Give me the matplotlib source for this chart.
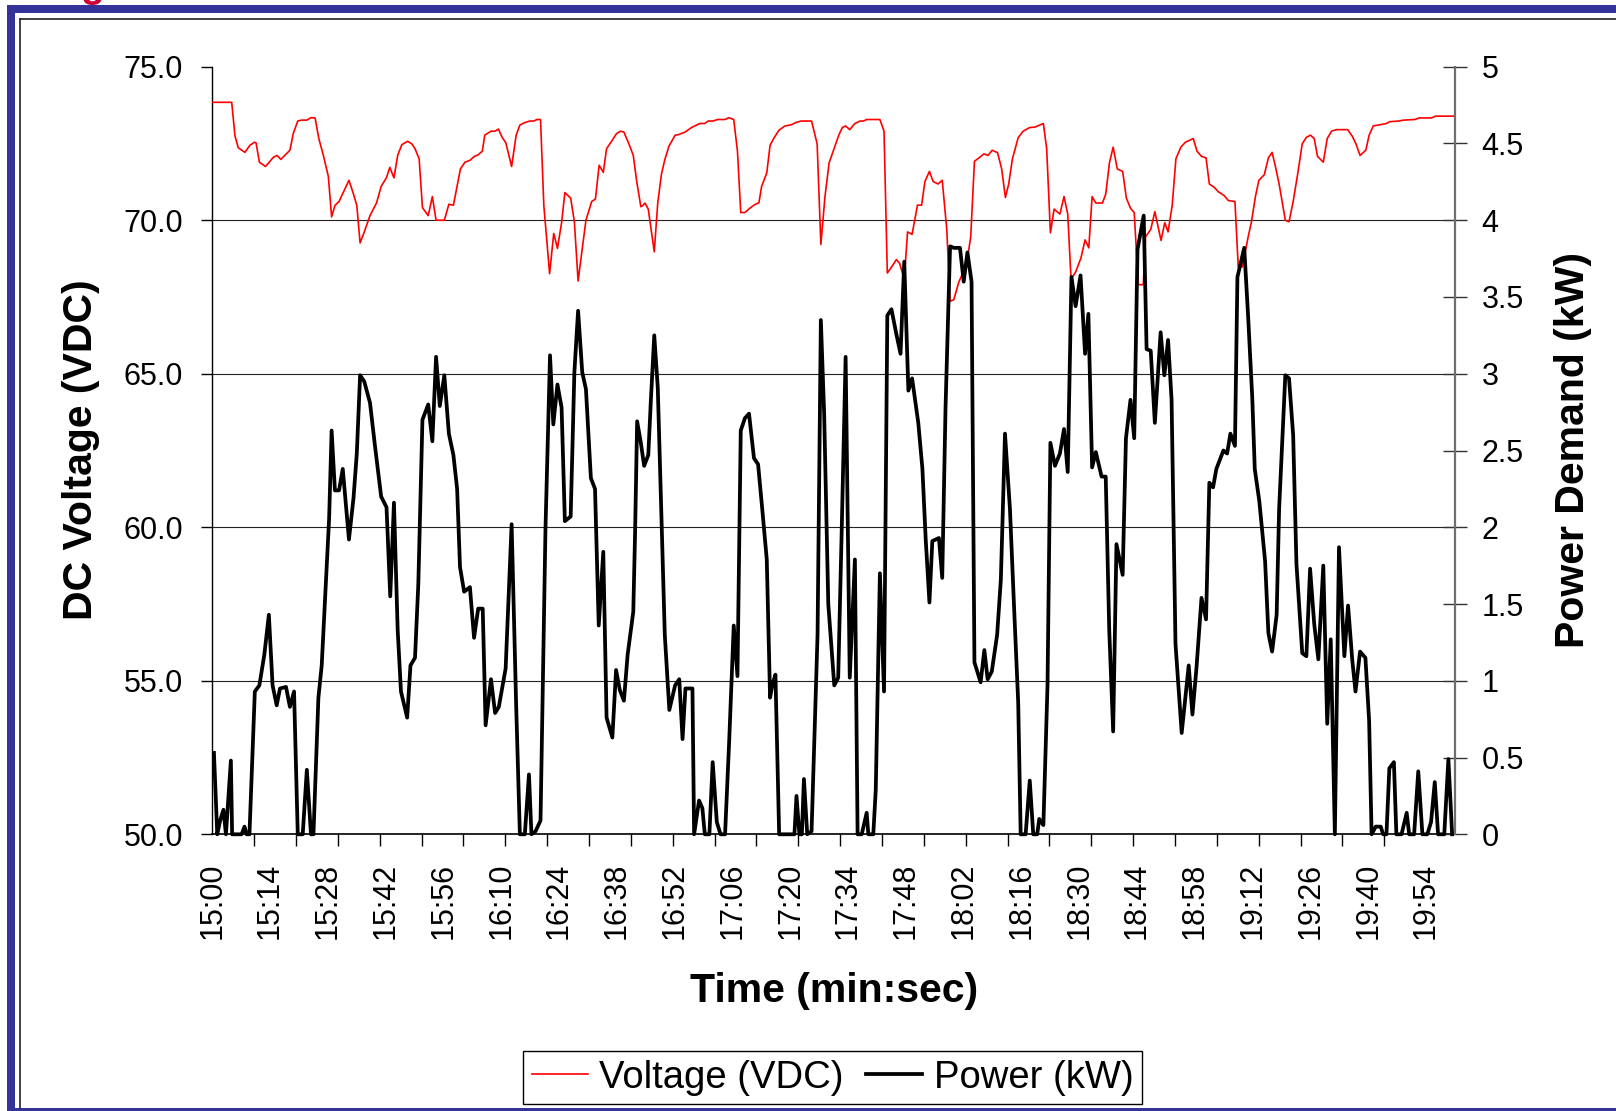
import matplotlib
matplotlib.use("Agg")
import matplotlib.pyplot as plt
import numpy as np
from matplotlib.patches import Rectangle
from matplotlib.lines import Line2D
from matplotlib import font_manager

plt.rcParams['font.family'] = ['Liberation Sans', 'DejaVu Sans']

# ---------------- data (seconds after 15:00) ----------------
volt_t = [0.0, 4.7, 5.5, 6.3, 7.9, 9.1, 10.2, 10.6, 11.4, 12.9, 14.8, 15.7, 16.6, 18.8, 19.6, 20.7, 21.6, 22.9,
          23.9, 24.9, 25.8, 26.9, 28.1, 28.9, 29.7, 30.7, 31.7, 33.1, 34.2, 35.0, 35.8, 36.6, 38.2, 39.8, 40.9,
          42.2, 43.0, 44.0, 44.9, 45.9, 47.3, 48.3, 49.1, 50.1, 50.9, 52.3, 53.3, 54.2, 56.2, 57.3, 58.4, 60.1,
          61.2, 62.4, 63.5, 64.4, 65.4, 66.0, 67.5, 68.5, 69.3, 70.2, 71.1, 72.5, 73.6, 74.5, 75.7, 76.9, 77.9,
          78.6, 79.5, 80.3, 81.7, 82.7, 83.6, 84.6, 85.4, 86.8, 87.7, 88.6, 89.5, 90.5, 91.9, 92.8, 93.7, 94.7,
          95.5, 96.9, 97.9, 98.9, 99.7, 100.9, 101.97, 102.8, 103.8, 104.2, 104.8, 105.6, 106.3, 107.05, 107.9,
          108.8, 109.6, 110.6, 112.1, 113.0, 114.5, 116.1, 118.1, 119.3, 120.1, 121.3, 122.4, 124.2, 125.1, 126.3,
          127.2, 128.0, 129.0, 130.2, 131.4, 132.4, 133.05, 134.3, 135.1, 136.1, 137.25, 138.7, 140.3, 141.3,
          142.6, 145.15, 146.5, 147.4, 148.4, 149.4, 150.4, 151.8, 152.6, 153.4, 154.4, 155.65, 156.9, 157.7,
          158.5, 161.7, 162.7, 163.5, 164.7, 165.7, 166.5, 167.6, 168.4, 169.5, 170.8, 171.8, 172.6, 173.7,
          174.6, 175.8, 176.8, 177.9, 178.7, 179.6, 180.8, 182.7, 183.7, 184.6, 185.7, 186.9, 187.9, 188.9,
          190.2, 191.2, 192.1, 192.9, 193.8, 195.2, 196.4, 198.0, 199.2, 201.3, 202.1, 203.0, 203.9, 205.3,
          206.3, 207.2, 208.0, 209.1, 210.4, 211.4, 212.3, 213.1, 214.0, 215.6, 216.4, 217.3, 218.2, 219.2,
          220.5, 221.4, 222.4, 223.3, 224.3, 225.5, 226.05, 227.3, 228.3, 229.8, 230.7, 231.5, 232.5, 233.4,
          234.6, 235.7, 237.6, 238.5, 239.6, 240.7, 241.5, 242.7, 243.65, 245.1, 246.1, 247.7, 248.5, 249.5,
          250.9, 251.7, 252.7, 253.5, 254.8, 255.8, 256.7, 257.5, 258.4, 259.9, 260.8, 261.8, 262.9, 264.0,
          265.0, 266.0, 266.9, 267.7, 269.1, 270.05, 271.1, 272.3, 275.0, 276.1, 277.0, 278.0, 279.4, 280.2,
          281.2, 282.8, 284.4, 285.2, 287.4, 288.5, 291.3, 292.3, 295.3, 296.3, 300.7]
volt_vdc = [73.84, 73.84, 72.74, 72.36, 72.21, 72.44, 72.54, 72.52, 71.89, 71.75, 72.05, 72.11, 71.98, 72.28, 72.82,
            73.23, 73.26, 73.26, 73.34, 73.33, 72.66, 72.11, 71.43, 70.11, 70.48, 70.61, 70.90, 71.30, 70.85, 70.48,
            69.26, 69.54, 70.15, 70.57, 71.10, 71.39, 71.72, 71.38, 72.11, 72.46, 72.57, 72.49, 72.33, 72.0, 70.41,
            70.15, 70.77, 70.0, 70.0, 70.52, 70.49, 71.67, 71.89, 71.95, 72.08, 72.13, 72.25, 72.77, 72.90, 72.90,
            72.97, 72.70, 72.52, 71.75, 72.77, 73.10, 73.18, 73.23, 73.23, 73.28, 73.28, 70.48, 68.26, 69.57, 69.08,
            69.92, 70.90, 70.72, 69.95, 68.02, 68.97, 70.0, 70.61, 70.69, 71.79, 71.56, 72.33, 72.61, 72.82, 72.90,
            72.87, 72.49, 72.11, 71.26, 70.44, 70.47, 70.56, 70.36, 69.70, 68.97, 70.57, 71.51, 71.97, 72.41, 72.77,
            72.79, 72.87, 73.02, 73.15, 73.15, 73.23, 73.23, 73.28, 73.28, 73.34, 73.28, 72.25, 70.25, 70.25, 70.39,
            70.51, 70.57, 71.10, 71.54, 72.44, 72.69, 72.93, 73.07, 73.11, 73.18, 73.23, 73.23, 72.49, 69.21, 70.77,
            71.87, 72.25, 72.79, 73.02, 73.07, 72.95, 73.15, 73.23, 73.23, 73.28, 73.28, 72.90, 68.28, 68.51, 68.72,
            68.59, 68.07, 69.62, 69.54, 70.49, 70.49, 71.26, 71.59, 71.26, 71.18, 71.30, 69.70, 67.36, 67.41, 67.98,
            68.56, 69.46, 71.92, 72.03, 72.16, 72.11, 72.28, 72.20, 71.67, 70.74, 71.18, 72.0, 72.69, 72.90, 73.02,
            73.03, 73.15, 72.33, 69.59, 70.36, 70.20, 70.77, 70.20, 68.07, 68.31, 68.77, 69.36, 69.10, 70.77, 70.56,
            70.56, 70.85, 71.87, 72.38, 71.67, 71.59, 70.72, 70.39, 70.25, 67.90, 67.90, 69.46, 69.70, 70.28, 69.34,
            69.92, 69.62, 70.48, 72.0, 72.38, 72.54, 72.66, 72.25, 72.08, 72.03, 71.18, 71.07, 70.93, 70.80, 70.64,
            70.61, 68.48, 68.48, 69.46, 69.95, 70.80, 71.30, 71.48, 72.03, 72.21, 71.75, 71.18, 70.0, 69.95, 70.61,
            71.51, 72.49, 72.70, 72.77, 72.66, 72.08, 71.89, 72.66, 72.90, 72.95, 72.95, 72.74, 72.49, 72.11, 72.28,
            72.77, 73.07, 73.11, 73.15, 73.21, 73.23, 73.26, 73.28, 73.33, 73.33, 73.39, 73.39]

power_t = [0.4, 1.2, 1.9, 2.7, 3.3, 4.5, 4.8, 7.1, 7.8, 8.3, 9.0, 10.3, 11.4, 12.6, 13.7, 14.6, 15.6, 16.4, 17.85,
           18.8, 19.8, 20.7, 21.9, 22.9, 23.9, 24.5, 25.7, 26.5, 27.5, 28.3, 28.9, 29.7, 30.7, 31.6, 33.1, 34.2,
           35.0, 35.8, 36.8, 38.2, 39.4, 40.9, 42.2, 43.1, 44.0, 44.9, 45.7, 47.2, 48.0, 49.1, 49.9, 50.9, 52.3,
           53.3, 54.2, 55.1, 56.2, 57.3, 58.4, 59.3, 60.0, 61.0, 62.4, 63.4, 64.4, 65.5, 66.2, 67.5, 68.5, 69.4,
           71.05, 72.5, 73.6, 74.5, 75.7, 76.7, 77.3, 78.3, 79.5, 80.7, 81.8, 82.6, 83.6, 84.6, 85.4, 86.8, 87.7,
           88.6, 89.6, 90.5, 91.7, 92.7, 93.6, 94.7, 95.5, 96.9, 97.8, 98.7, 99.7, 100.6, 101.97, 102.4, 102.9,
           103.8, 104.6, 105.6, 106.25, 107.05, 107.9, 108.8, 109.6, 110.7, 112.1, 113.1, 113.9, 114.6, 116.3,
           116.7, 117.9, 118.7, 119.3, 120.4, 121.2, 122.2, 123.1, 124.2, 125.2, 126.3, 127.2, 128.0, 129.0,
           130.0, 131.2, 132.2, 133.2, 134.3, 135.1, 135.7, 136.4, 137.3, 141.0, 141.5, 142.2, 142.8, 143.3,
           144.1, 145.15, 146.6, 147.4, 148.2, 149.2, 150.65, 151.6, 152.4, 153.4, 154.4, 155.65, 156.3, 157.3,
           158.5, 158.9, 160.1, 160.7, 161.7, 162.7, 163.5, 164.5, 165.75, 166.7, 167.6, 168.6, 169.5, 171.0,
           172.0, 172.8, 173.7, 174.4, 176.0, 176.8, 177.6, 178.7, 179.6, 181.1, 182.0, 182.9, 183.9, 184.6,
           186.1, 187.0, 187.8, 188.8, 190.1, 191.0, 192.0, 193.2, 194.2, 195.2, 195.8, 197.0, 198.0, 198.85,
           199.8, 200.3, 201.3, 202.3, 203.0, 204.1, 205.3, 206.3, 207.2, 208.1, 209.1, 210.3, 211.4, 212.2,
           213.1, 214.0, 215.4, 216.4, 217.25, 218.2, 219.0, 220.5, 221.3, 222.4, 223.3, 224.1, 225.6, 226.3,
           227.3, 228.3, 229.7, 230.6, 231.5, 232.35, 233.3, 234.8, 236.5, 237.4, 238.4, 239.6, 240.7, 241.5,
           242.4, 243.2, 244.9, 245.8, 246.6, 247.7, 248.3, 249.95, 250.9, 251.9, 252.5, 253.6, 255.0, 255.8,
           256.7, 257.8, 258.4, 259.9, 260.8, 261.8, 262.6, 264.0, 265.0, 265.9, 266.9, 267.9, 269.1, 270.05,
           270.9, 271.9, 272.9, 274.2, 275.1, 276.1, 276.9, 278.0, 279.3, 280.2, 280.8, 281.8, 283.0, 283.6,
           284.4, 285.1, 286.2, 286.8, 288.05, 289.3, 289.9, 291.1, 292.1, 293.1, 294.3, 295.2, 296.1, 296.9,
           298.4, 299.4, 300.3]
power_kw = [0.53, 0, 0.09, 0.16, 0, 0.48, 0, 0, 0.05, 0, 0, 0.93, 0.97, 1.17, 1.43, 0.97, 0.84, 0.95, 0.96,
            0.83, 0.93, 0, 0, 0.42, 0, 0, 0.89, 1.10, 1.63, 2.06, 2.63, 2.24, 2.24, 2.38, 1.92, 2.19,
            2.48, 2.99, 2.95, 2.81, 2.53, 2.20, 2.13, 1.55, 2.16, 1.33, 0.93, 0.76, 1.10, 1.15, 1.63, 2.70, 2.80,
            2.56, 3.11, 2.79, 2.99, 2.61, 2.47, 2.25, 1.74, 1.58, 1.61, 1.28, 1.47, 1.47, 0.71, 1.01, 0.79, 0.83,
            1.08, 2.02, 0.84, 0, 0, 0.39, 0, 0.02, 0.09, 1.99, 3.12, 2.67, 2.93, 2.78, 2.04, 2.07, 3.01,
            3.41, 3.01, 2.90, 2.32, 2.25, 1.36, 1.84, 0.76, 0.63, 1.07, 0.94, 0.87, 1.17, 1.45, 1.96, 2.69,
            2.55, 2.40, 2.47, 2.84, 3.25, 2.91, 2.06, 1.30, 0.81, 0.97, 1.01, 0.62, 0.95, 0.95,
            0, 0.22, 0.17, 0, 0, 0.47, 0.08, 0, 0, 0.61, 1.36, 1.03, 2.63, 2.71,
            2.74, 2.45, 2.41, 2.12, 1.79, 0.89, 0.98, 1.04, 0, 0, 0.25, 0, 0, 0.36,
            0, 0.02, 1.30, 3.35, 2.74, 1.50, 0.97, 1.02, 1.92, 3.11, 1.02, 1.79, 0, 0,
            0.14, 0, 0, 0.29, 1.70, 0.93, 3.38, 3.42, 3.25, 3.13, 3.73, 2.89, 2.97, 2.68,
            2.38, 1.92, 1.51, 1.91, 1.93, 1.67, 2.78, 3.83, 3.82, 3.82, 3.60, 3.79, 3.60, 1.12,
            0.99, 1.20, 1.01, 1.06, 1.30, 1.66, 2.61, 2.12, 1.48, 0.86, 0, 0, 0.35, 0,
            0, 0.10, 0.06, 0.97, 2.55, 2.40, 2.48, 2.64, 2.36, 3.63, 3.44, 3.64, 3.13, 3.39,
            2.39, 2.49, 2.33, 2.33, 1.33, 0.67, 1.89, 1.69, 2.58, 2.83, 2.58, 3.81, 4.03, 3.16,
            3.15, 2.68, 3.27, 2.99, 3.22, 2.83, 1.24, 0.66, 1.10, 0.78, 1.09, 1.54, 1.40, 2.29,
            2.26, 2.38, 2.50, 2.48, 2.61, 2.53, 3.63, 3.82, 3.37, 2.84, 2.38, 2.17, 1.78, 1.31,
            1.19, 1.43, 2.12, 2.99, 2.97, 2.60, 1.76, 1.18, 1.16, 1.73, 1.37, 1.14, 1.75, 0.72,
            1.27, 0, 1.87, 1.16, 1.49, 1.14, 0.93, 1.19, 1.15, 0.74, 0, 0.05, 0.05, 0,
            0, 0.43, 0.47, 0, 0, 0.14, 0, 0, 0.41, 0, 0, 0.08, 0.34, 0,
            0, 0.49, 0]

x_labels = ["15:00", "15:14", "15:28", "15:42", "15:56", "16:10", "16:24", "16:38", "16:52", "17:06", "17:20",
            "17:34", "17:48", "18:02", "18:16", "18:30", "18:44", "18:58", "19:12", "19:26", "19:40", "19:54"]
label_step_s = 14
left_ticks = [50, 55, 60, 65, 70, 75]
right_ticks = [0, 0.5, 1, 1.5, 2, 2.5, 3, 3.5, 4, 4.5, 5]

# ---------------- figure ----------------
W, H = 1616, 1111
fig = plt.figure(figsize=(W / 100, H / 100), dpi=100)
fig.patch.set_facecolor('white')

L, R, T, B = 212.3, 1455.0, 66.7, 834.3
ax = fig.add_axes([L / W, 1 - B / H, (R - L) / W, (B - T) / H])
ax2 = ax.twinx()

ax.set_xlim(0, 301)
ax.set_ylim(50, 75)
ax2.set_ylim(0, 5)

# x axis: labels every 14 s, tick marks (Excel style) at 29 equal intervals
label_pos = [i * label_step_s for i in range(len(x_labels))]
ax.set_xticks(label_pos)
ax.set_xticklabels(x_labels, rotation=90, fontsize=22)
ax.set_xticks(np.linspace(0, label_pos[-1], 30), minor=True)
ax.tick_params(axis='x', which='major', length=0, pad=20.5)
ax.tick_params(axis='x', which='minor', length=8.64, width=1.0, direction='out', color='black')

ax.set_yticks(left_ticks)
ax.set_yticklabels([f"{v:.1f}" for v in left_ticks], fontsize=22)
ax.tick_params(axis='y', length=8.0, width=1.0, direction='out', pad=13.0, color='black')

ax2.set_yticks(right_ticks)
ax2.set_yticklabels([f"{v:g}" for v in right_ticks], fontsize=22)
ax2.tick_params(axis='y', length=17.3, width=1.0, direction='inout', pad=10.5, color='#333333')

for s in ['top', 'right']:
    ax.spines[s].set_visible(False)
for s in ['top', 'left', 'bottom']:
    ax2.spines[s].set_visible(False)
ax.spines['left'].set_color('black')
ax.spines['left'].set_linewidth(1.0)
ax.spines['bottom'].set_color('black')
ax.spines['bottom'].set_linewidth(1.2)
ax2.spines['right'].set_color('#6e6e6e')
ax2.spines['right'].set_linewidth(1.6)

ax.yaxis.grid(True, color='#222222', linewidth=0.8)
for gl, v in zip(ax.get_ygridlines(), left_ticks):
    if v in (50, 75):
        gl.set_visible(False)
ax.set_axisbelow(True)

lv, = ax.plot(volt_t, volt_vdc, color='#ff0000', linewidth=1.2, zorder=3)
lp, = ax2.plot(power_t, power_kw, color='black', linewidth=2.7, zorder=3, clip_on=False)

# axis titles
fig.text(81 / W, 1 - 450 / H, "DC Voltage (VDC)", rotation=90, ha='center', va='center',
         fontsize=29.5, fontweight='bold')
fig.text(1573 / W, 1 - 450 / H, "Power Demand (kW)", rotation=90, ha='center', va='center',
         fontsize=29.5, fontweight='bold')
fig.text(834 / W, 1 - 991 / H, "Time (min:sec)", ha='center', va='center',
         fontsize=29.5, fontweight='bold')

# legend (text in the chart is drawn tall and narrow)
names = {f.name for f in font_manager.fontManager.ttflist}
if 'Liberation Sans Narrow' in names:
    leg_family, leg_size = 'Liberation Sans Narrow', 31.5
    hl, htp, cs = 1.27, 0.25, 0.52
else:
    leg_family, leg_size = 'Liberation Sans', 27.5
    hl, htp, cs = 1.47, 0.29, 0.6
leg = fig.legend([lv, lp], ["Voltage (VDC)", "Power (kW)"], loc='center',
                 bbox_to_anchor=(832.5 / W, 1 - 1077.5 / H), ncol=2, frameon=True, fancybox=False,
                 edgecolor='black', framealpha=1,
                 prop={'family': leg_family, 'size': leg_size},
                 handlelength=hl, handletextpad=htp, columnspacing=cs, borderpad=0.22, borderaxespad=0)
leg.get_frame().set_linewidth(1.0)

# slide frame decoration
blue = '#333399'
fig.add_artist(Rectangle((7.3 / W, 0), 7.7 / W, (H - 5) / H, transform=fig.transFigure,
                         facecolor=blue, edgecolor='none'))
fig.add_artist(Rectangle((7.3 / W, 1 - 12.7 / H), (W - 7.3) / W, 7.7 / H, transform=fig.transFigure,
                         facecolor=blue, edgecolor='none'))
fig.add_artist(Rectangle((7.3 / W, 0), (W - 7.3) / W, 3 / H, transform=fig.transFigure,
                         facecolor=blue, edgecolor='none'))
fig.add_artist(Line2D([20 / W, 20 / W], [3 / H, 1 - 19 / H], transform=fig.transFigure,
                      color='#222222', linewidth=1.2))
fig.add_artist(Line2D([20 / W, 1], [1 - 19 / H, 1 - 19 / H], transform=fig.transFigure,
                      color='#222222', linewidth=1.2))
fig.text(92 / W, 1 + 3 / H, "g", color='#cc0033', fontsize=28, fontweight='bold',
         ha='center', va='baseline')

fig.savefig("out.png", dpi=100)
